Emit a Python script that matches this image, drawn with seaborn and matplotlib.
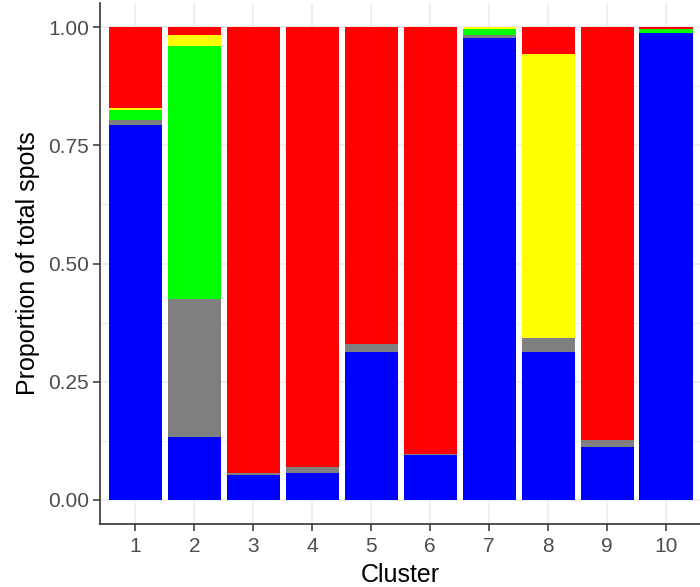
import numpy as np
import pandas as pd
import matplotlib
matplotlib.use("Agg")
import matplotlib.pyplot as plt
from matplotlib.ticker import FixedLocator
import seaborn as sns

# Proportion of spots per cell type within each cluster
clusters = [1, 2, 3, 4, 5, 6, 7, 8, 9, 10]
blue_prop   = [0.793, 0.134, 0.053, 0.058, 0.313, 0.095, 0.977, 0.313, 0.112, 0.988]
grey_prop   = [0.011, 0.290, 0.004, 0.011, 0.017, 0.003, 0.006, 0.029, 0.015, 0.000]
green_prop  = [0.021, 0.536, 0.000, 0.001, 0.000, 0.000, 0.013, 0.000, 0.000, 0.0085]
yellow_prop = [0.004, 0.023, 0.000, 0.000, 0.000, 0.000, 0.004, 0.601, 0.000, 0.000]
red_prop    = [0.171, 0.017, 0.943, 0.930, 0.670, 0.902, 0.000, 0.057, 0.873, 0.0035]

groups = ["blue", "grey", "green", "yellow", "red"]
colours = {"blue": "#0000FF", "grey": "#7F7F7F", "green": "#00FF00",
           "yellow": "#FFFF00", "red": "#FF0000"}

df = pd.DataFrame({
    "Cluster": clusters * 5,
    "group": [g for g in groups for _ in clusters],
    "prop": blue_prop + grey_prop + green_prop + yellow_prop + red_prop,
})

sns.set_theme(style="white")
plt.rcParams["font.family"] = ["Liberation Sans", "DejaVu Sans"]

fig = plt.figure(figsize=(7.0, 5.87), dpi=100)
ax = fig.add_axes([100 / 700, 1 - 523.6 / 587, 601.4 / 700, 520.2 / 587])

sns.histplot(data=df, x="Cluster", hue="group", weights="prop",
             hue_order=groups[::-1], palette=colours,
             multiple="stack", discrete=True, shrink=0.9,
             element="bars", linewidth=0, alpha=1, legend=False, ax=ax)

ax.set_xlim(0.4, 10.6)
ax.set_ylim(-0.05, 1.05)
ax.set_xticks(clusters)
ax.set_xticklabels([str(c) for c in clusters])
ax.set_yticks([0, 0.25, 0.5, 0.75, 1.0])
ax.set_yticklabels(["0.00", "0.25", "0.50", "0.75", "1.00"])
ax.yaxis.set_minor_locator(FixedLocator([0.125, 0.375, 0.625, 0.875]))

ax.set_axisbelow(True)
ax.grid(which="major", color="#EBEBEB", linewidth=1.1)
ax.grid(which="minor", axis="y", color="#EBEBEB", linewidth=0.6)

for side in ["top", "right"]:
    ax.spines[side].set_visible(False)
for side in ["left", "bottom"]:
    ax.spines[side].set_visible(True)
    ax.spines[side].set_color("#333333")
    ax.spines[side].set_linewidth(1.2)

ax.tick_params(which="major", length=5, width=1.1, color="#333333",
               labelsize=15, labelcolor="#4D4D4D", pad=3,
               left=True, bottom=True)
ax.tick_params(axis="x", which="major", pad=5)
ax.tick_params(which="minor", length=0)

ax.set_xlabel("Cluster", fontsize=18, color="black", labelpad=5)
ax.set_ylabel("Proportion of total spots", fontsize=18, color="black", labelpad=6)

fig.savefig("out.png", dpi=100)
